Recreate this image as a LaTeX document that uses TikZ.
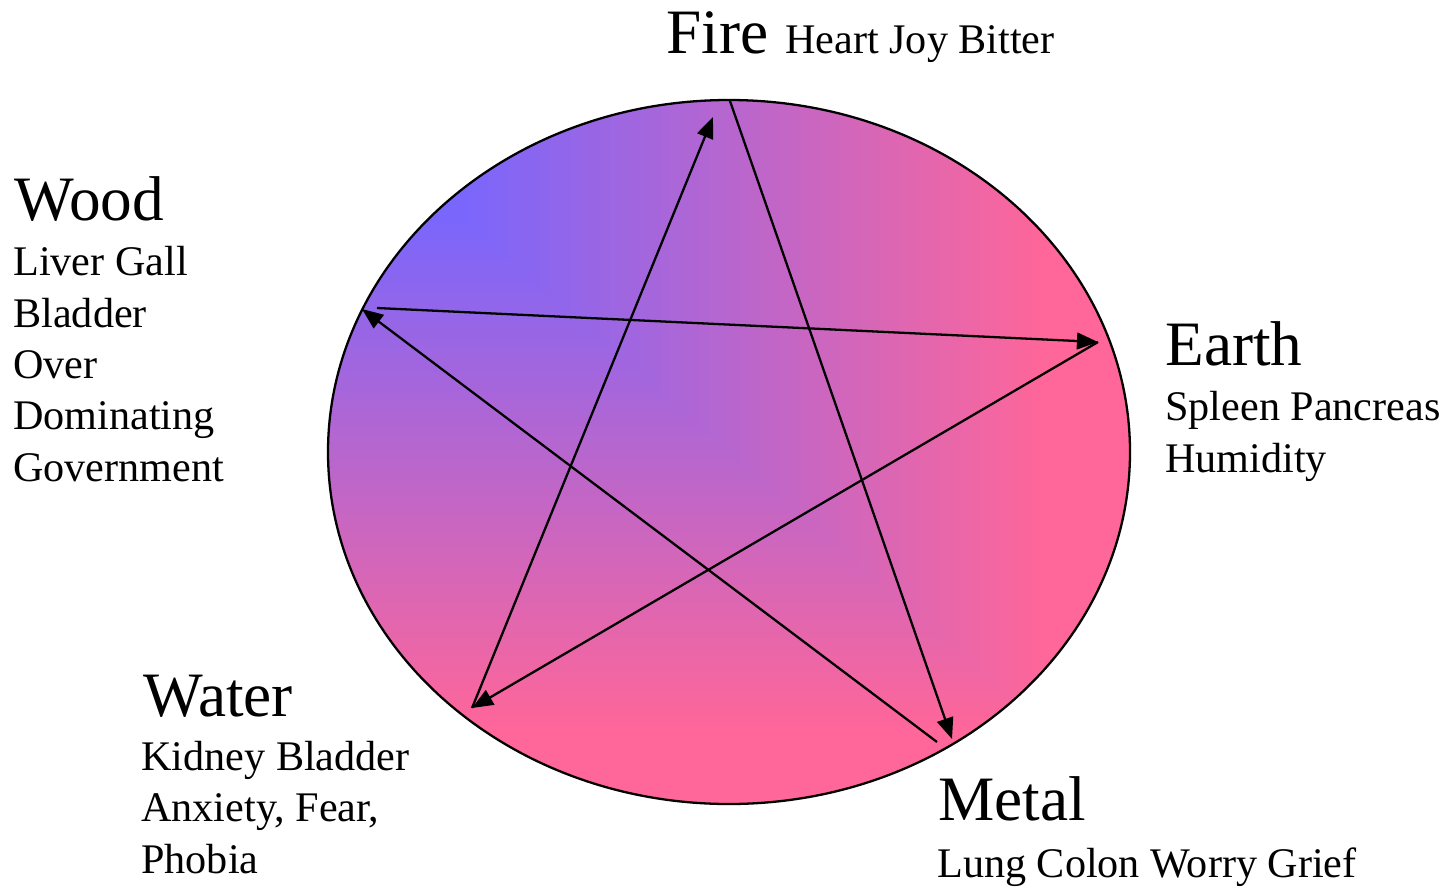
\documentclass[tikz,border=0pt]{standalone}
\usepackage{fontspec}
\setmainfont{Liberation Serif}
\usetikzlibrary{arrows.meta}
\definecolor{woodblue}{RGB}{118,102,255}
\definecolor{firepink}{RGB}{255,102,153}
\begin{document}
\begin{tikzpicture}[x=0.02cm,y=-0.02cm,
  element/.style={inner sep=0pt,anchor=base west,font=\fontsize{36}{40}\selectfont},
  organs/.style={inner sep=0pt,anchor=base west,align=left,font=\fontsize{24}{29.2}\selectfont},
  flow/.style={line width=1.3pt,-{Triangle[length=12pt,width=9.5pt]}}]
\useasboundingbox (0,0) rectangle (1449,886);
% shaded disc, blue in the upper left corner
\begin{scope}
\clip (729,452) ellipse [x radius=401,y radius=352];
\foreach \k in {80,79,...,1}{
  \pgfmathsetmacro{\gradT}{\k/80}
  \pgfmathsetmacro{\blueshare}{max(0,min(100,(0.9-\gradT)/0.75*100))}
  \fill[woodblue!\blueshare!firepink] (329,100) rectangle ++(802*\gradT,705*\gradT);
}
\end{scope}
\draw[line width=1.3pt] (729,452) ellipse [x radius=401,y radius=352];
% star points
\coordinate (fireTop) at (730,101);
\coordinate (fireTip) at (713,117);
\coordinate (metalTip) at (952,739);
\coordinate (metalEnd) at (937,742);
\coordinate (woodTip) at (362,309);
\coordinate (woodEnd) at (377,308);
\coordinate (earthTip) at (1098,342);
\coordinate (waterTip) at (472,708);
\draw[flow] (fireTop) -- (metalTip);
\draw[flow] (metalEnd) -- (woodTip);
\draw[flow] (woodEnd) -- (earthTip);
\draw[flow] (earthTip) -- (waterTip);
\draw[flow] (waterTip) -- (fireTip);
% labels (base of a multi-line node is its last line)
\node[element] (fire) at (666,53) {Fire};
\node[organs] (fireOrgans) at (785,53) {Heart Joy Bitter};
\node[element] (wood) at (14,220) {Wood};
\node[organs] (woodOrgans) at (13,481) {Liver Gall\\Bladder\\Over\\Dominating\\Government};
\node[element] (earth) at (1165,365) {Earth};
\node[organs] (earthOrgans) at (1165,472) {Spleen Pancreas\\Humidity};
\node[element] (water) at (143,716) {Water};
\node[organs] (waterOrgans) at (141,873) {Kidney Bladder\\Anxiety, Fear,\\Phobia};
\node[element] (metal) at (938,820) {Metal};
\node[organs] (metalOrgans) at (937,877) {Lung Colon Worry Grief};
\end{tikzpicture}
\end{document}
